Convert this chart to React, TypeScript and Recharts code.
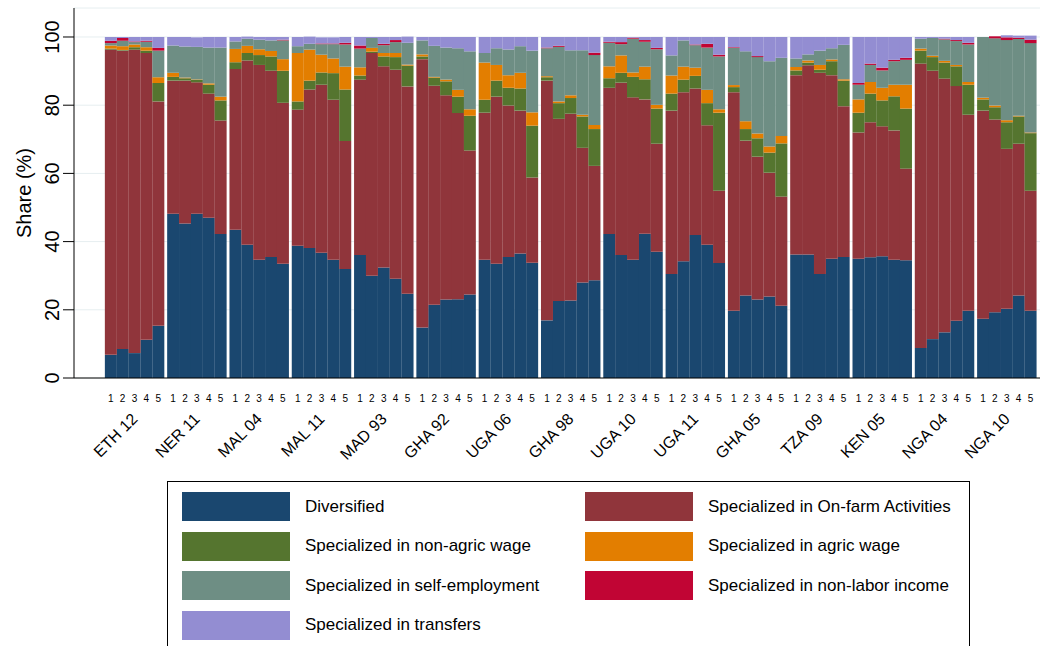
import { BarChart, Bar, XAxis, YAxis, CartesianGrid } from "recharts";

const FONT = '"Liberation Sans", Arial, Helvetica, sans-serif';

const countries = [
  "ETH 12", "NER 11", "MAL 04", "MAL 11", "MAD 93", "GHA 92", "UGA 06", "GHA 98",
  "UGA 10", "UGA 11", "GHA 05", "TZA 09", "KEN 05", "NGA 04", "NGA 10",
];
const quintiles = [1, 2, 3, 4, 5];
const yTicks = [0, 20, 40, 60, 80, 100];

// one row per country, quintiles 1..5
const diversified = [
  [6.8, 8.5, 7.3, 11.2, 15.3], [48.2, 45.3, 48.2, 47.0, 42.2], [43.5, 39.1, 34.7, 35.5, 33.5],
  [38.8, 38.1, 36.7, 34.7, 32.0], [36.1, 30.0, 32.4, 29.1, 24.7], [14.8, 21.5, 23.0, 23.1, 24.5],
  [34.7, 33.5, 35.5, 36.5, 33.8], [16.9, 22.6, 22.7, 28.0, 28.7], [42.2, 36.1, 34.7, 42.3, 37.0],
  [30.5, 34.2, 41.9, 39.1, 33.7], [19.7, 24.2, 23.0, 23.9, 21.2], [36.2, 36.2, 30.5, 35.0, 35.5],
  [35.0, 35.4, 35.7, 34.7, 34.5], [8.8, 11.4, 13.4, 16.8, 19.7], [17.4, 19.3, 20.3, 24.2, 19.7],
];
const onFarm = [
  [89.5, 87.5, 89.0, 84.1, 65.8], [39.0, 41.9, 38.5, 36.4, 33.3], [47.1, 54.0, 57.1, 54.6, 47.2],
  [39.9, 46.5, 49.3, 46.9, 37.5], [51.4, 65.3, 59.0, 61.3, 60.8], [78.7, 64.2, 59.9, 54.6, 42.2],
  [43.1, 49.0, 44.4, 41.9, 25.0], [70.3, 53.4, 54.8, 39.5, 33.5], [42.9, 50.5, 47.6, 39.4, 31.7],
  [47.9, 49.6, 43.0, 35.0, 21.2], [64.1, 45.4, 41.9, 36.3, 32.0], [52.6, 55.5, 59.0, 53.8, 44.2],
  [37.0, 39.6, 38.1, 37.9, 26.9], [83.4, 78.7, 74.4, 68.8, 57.5], [61.0, 56.5, 46.9, 44.5, 35.2],
];
const nonAgricWage = [
  [0.3, 0.2, 0.7, 0.7, 5.4], [1.1, 0.7, 0.8, 2.6, 5.9], [2.0, 2.2, 2.9, 4.2, 9.4],
  [2.4, 2.6, 3.6, 7.8, 15.1], [1.2, 0.4, 2.9, 3.7, 6.1], [0.8, 2.4, 4.1, 4.8, 10.2],
  [3.8, 4.7, 5.2, 6.5, 15.2], [1.0, 4.6, 4.6, 9.2, 10.8], [2.8, 2.9, 6.0, 5.9, 10.3],
  [5.0, 3.7, 3.7, 6.5, 22.9], [1.5, 3.4, 5.4, 5.9, 15.6], [1.4, 0.8, 0.9, 4.1, 7.5],
  [5.8, 8.4, 7.6, 10.0, 17.6], [3.8, 4.0, 4.7, 5.8, 8.8], [3.3, 3.6, 7.8, 8.0, 16.9],
];
const agricWage = [
  [0.9, 1.1, 0.8, 1.0, 1.7], [1.2, 0.2, 0.1, 0.4, 1.1], [3.9, 2.1, 1.7, 1.6, 3.4],
  [14.2, 9.1, 5.2, 4.3, 6.7], [2.4, 1.1, 1.0, 1.2, 0.3], [0.6, 0.2, 0.5, 2.0, 1.9],
  [10.9, 4.6, 3.7, 4.6, 3.9], [0.3, 0.5, 0.8, 0.5, 1.2], [3.5, 5.1, 1.3, 3.7, 1.1],
  [5.3, 3.8, 2.4, 3.9, 1.0], [0.6, 2.3, 1.4, 1.8, 2.2], [1.0, 0.6, 1.4, 0.5, 0.4],
  [3.9, 3.4, 3.7, 3.4, 7.0], [0.6, 0.4, 0.5, 0.4, 0.8], [0.5, 0.5, 0.6, 0.2, 0.2],
];
const selfEmployment = [
  [0.7, 1.6, 0.7, 1.6, 7.8], [8.0, 9.1, 9.5, 10.5, 14.4], [2.2, 2.1, 2.8, 3.1, 5.5],
  [2.0, 1.7, 3.1, 4.2, 6.5], [5.5, 2.9, 2.3, 3.2, 6.4], [4.1, 9.1, 9.4, 12.2, 17.0],
  [2.8, 4.9, 7.5, 7.8, 18.1], [8.2, 16.0, 13.2, 18.9, 20.5], [6.9, 3.3, 9.9, 7.3, 16.3],
  [5.9, 7.7, 6.6, 12.4, 15.5], [10.9, 20.5, 22.4, 25.0, 22.9], [2.5, 1.8, 4.2, 3.3, 10.1],
  [4.3, 5.0, 5.1, 6.9, 7.3], [2.9, 5.2, 6.3, 7.0, 11.0], [17.8, 19.7, 23.5, 22.5, 26.2],
];
const nonLaborIncome = [
  [0.7, 0.8, 0.2, 0.3, 0.8], [0, 0, 0, 0, 0], [0, 0, 0, 0, 0.2],
  [0, 0, 0.2, 0.2, 0.5], [0.9, 0, 0.4, 0.6, 0], [0, 0, 0, 0, 0],
  [0, 0, 0, 0, 0], [0.2, 0.3, 0, 0, 0.7], [0.3, 0.6, 0.3, 0.5, 0.4],
  [0, 0, 0.2, 1.1, 0.5], [0.2, 0, 0.3, 0, 0], [0, 0, 0, 0, 0],
  [0.5, 0.4, 0.8, 0.4, 0.6], [0, 0, 0.2, 0.3, 0.5], [0, 0.6, 0.8, 0.4, 1.0],
];
const transfers = [
  [1.1, 0.3, 1.3, 1.1, 3.2], [2.5, 2.8, 2.8, 3.1, 3.1], [1.3, 0.6, 0.8, 1.0, 0.8],
  [2.7, 2.1, 1.8, 1.8, 1.7], [2.5, 0.3, 2.0, 0.9, 1.8], [1.0, 2.6, 3.1, 3.3, 4.2],
  [4.7, 3.3, 3.7, 2.7, 4.0], [3.1, 2.6, 3.9, 3.9, 4.6], [1.4, 1.5, 0.2, 0.9, 3.2],
  [5.4, 1.0, 2.2, 2.0, 5.2], [3.0, 4.2, 5.6, 7.1, 6.1], [6.3, 5.1, 4.0, 3.3, 2.3],
  [13.5, 7.8, 9.0, 6.7, 6.1], [0.5, 0.3, 0.5, 0.9, 1.7], [0, 0, 0.6, 0.6, 1.2],
];

const series = [
  { key: "div", name: "Diversified", color: "#1a476f", values: diversified },
  { key: "farm", name: "Specialized in On-farm Activities", color: "#90353b", values: onFarm },
  { key: "nonag", name: "Specialized in non-agric wage", color: "#55752f", values: nonAgricWage },
  { key: "ag", name: "Specialized in agric wage", color: "#e37e00", values: agricWage },
  { key: "self", name: "Specialized in self-employment", color: "#6e8e84", values: selfEmployment },
  { key: "nonlab", name: "Specialized in non-labor income", color: "#c10534", values: nonLaborIncome },
  { key: "trans", name: "Specialized in transfers", color: "#938dd2", values: transfers },
];

// groups of 5 bars, a small gap between countries
const GROUP_STEP = 5.25;

const rows = countries.flatMap((c, g) =>
  quintiles.map((q, i) => {
    const row: any = { x: g * GROUP_STEP + i, country: c, q };
    series.forEach((s) => (row[s.key] = s.values[g][i]));
    return row;
  })
);

function XTick(props: any) {
  const { x, y, index } = props;
  const r = rows[index];
  if (!r) return null;
  const lx = x + 4;
  const ly = y + 42;
  return (
    <g>
      <text x={x} y={y + 24} textAnchor="middle" fontSize={10} fill="#000" fontFamily={FONT}>
        {r.q}
      </text>
      {r.q === 3 && (
        <text
          x={lx}
          y={ly}
          transform={`rotate(-45 ${lx} ${ly})`}
          textAnchor="end"
          fontSize={16}
          fill="#000"
          fontFamily={FONT}
        >
          {r.country}
        </text>
      )}
    </g>
  );
}

function YLabel(props: any) {
  const vb = props.viewBox || { x: 0, y: 8, width: 74, height: 370 };
  const cx = 31;
  const cy = vb.y + vb.height / 2;
  return (
    <text
      x={cx}
      y={cy}
      transform={`rotate(-90 ${cx} ${cy})`}
      textAnchor="middle"
      fontSize={20}
      fill="#000"
      fontFamily={FONT}
    >
      Share (%)
    </text>
  );
}

export default function App() {
  return (
    <div
      style={{
        position: "absolute",
        left: 0,
        top: 0,
        width: 1059,
        height: 646,
        overflow: "hidden",
        background: "#fff",
        fontFamily: FONT,
      }}
    >
      <BarChart
        width={1059}
        height={470}
        data={rows}
        margin={{ top: 8, right: 19, left: 0, bottom: 0 }}
        barCategoryGap={0}
        barGap={0}
      >
        <CartesianGrid vertical={false} stroke="#e6eef0" />
        <XAxis
          type="number"
          dataKey="x"
          domain={[-3.1, 78.3]}
          ticks={rows.map((r) => r.x)}
          interval={0}
          tickLine={false}
          tickSize={0}
          tickMargin={0}
          axisLine={{ stroke: "#000" }}
          tick={<XTick />}
          height={92}
        />
        <YAxis
          type="number"
          domain={[0, 108.5]}
          ticks={yTicks}
          interval={0}
          width={74}
          tickSize={11}
          tickMargin={11}
          tickLine={{ stroke: "#000" }}
          axisLine={{ stroke: "#000" }}
          angle={-90}
          tick={{
            angle: -90,
            fontSize: 20,
            fill: "#000",
            fontFamily: FONT,
            textAnchor: "middle",
            verticalAnchor: "end",
          }}
          label={{ content: (p: any) => <YLabel {...p} /> }}
        />
        {series.map((s) => (
          <Bar
            key={s.key}
            dataKey={s.key}
            name={s.name}
            stackId="a"
            fill={s.color}
            isAnimationActive={false}
          />
        ))}
      </BarChart>

      <div
        style={{
          position: "absolute",
          left: 167,
          top: 481,
          width: 803,
          height: 180,
          border: "1px solid #000",
          boxSizing: "border-box",
        }}
      >
        {series.map((s, i) => {
          const col = i % 2;
          const row = Math.floor(i / 2);
          return (
            <div
              key={s.key}
              style={{
                position: "absolute",
                left: col === 0 ? 14 : 417,
                top: 10 + row * 39.5,
                display: "flex",
                alignItems: "center",
              }}
            >
              <div style={{ width: 108, height: 29, background: s.color }} />
              <span style={{ marginLeft: 15, fontSize: 17, color: "#000", whiteSpace: "nowrap" }}>
                {s.name}
              </span>
            </div>
          );
        })}
      </div>
    </div>
  );
}
